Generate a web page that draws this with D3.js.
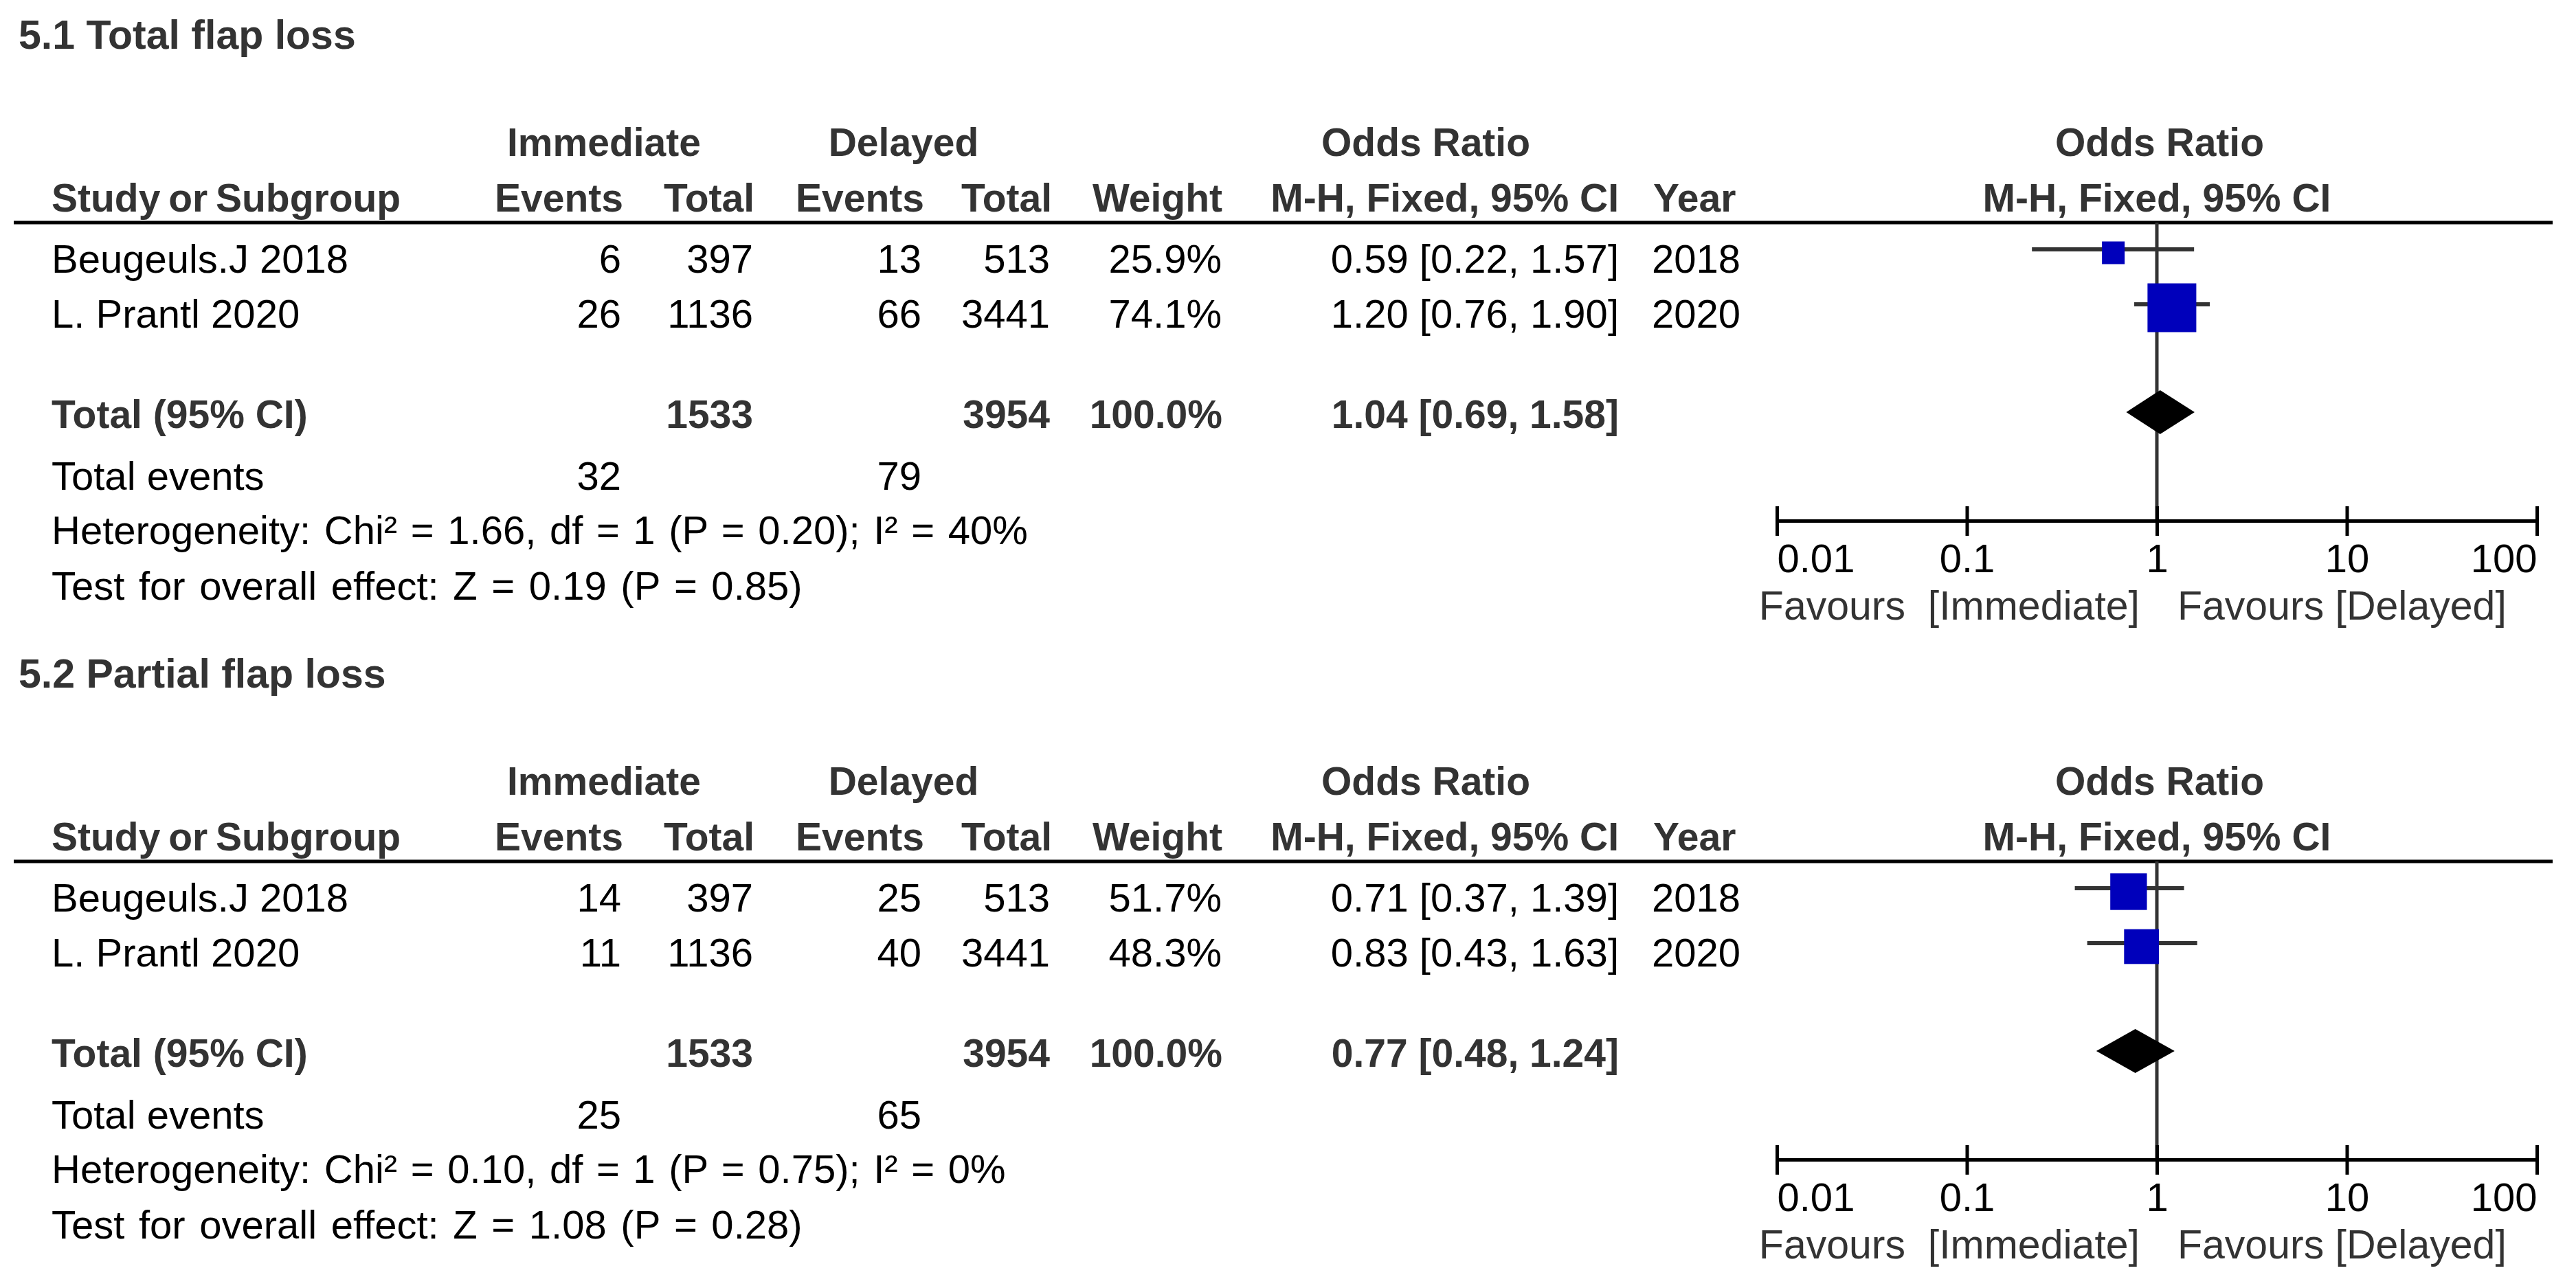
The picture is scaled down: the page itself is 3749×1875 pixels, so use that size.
<!DOCTYPE html>
<html>
<head>
<meta charset="utf-8">
<script src="https://cdn.jsdelivr.net/npm/d3@7"></script>
<style>
  body { margin: 0; background: #fff; }
  text { font-family: "Liberation Sans", Arial, sans-serif; white-space: pre; }
</style>
</head>
<body>
<div id="forest"></div>
<script>
// data
var sections = ["5.1 Total flap loss", "5.2 Partial flap loss"];
var studies = ["Beugeuls.J 2018", "L. Prantl 2020"];
var years = [2018, 2020];
var immEvents = [[6, 26], [14, 11]];
var immTotal = [397, 1136];
var delEvents = [[13, 66], [25, 40]];
var delTotal = [513, 3441];
var weights = [[25.9, 74.1], [51.7, 48.3]];
var orEst = [[0.59, 1.20], [0.71, 0.83]];
var orLow = [[0.22, 0.76], [0.37, 0.43]];
var orHigh = [[1.57, 1.90], [1.39, 1.63]];
var totalOR = [[1.04, 0.69, 1.58], [0.77, 0.48, 1.24]];
var totalN = [1533, 3954];
var totalEvents = [[32, 79], [25, 65]];
var heterogeneity = ["Heterogeneity: Chi\u00b2 = 1.66, df = 1 (P = 0.20); I\u00b2 = 40%",
                     "Heterogeneity: Chi\u00b2 = 0.10, df = 1 (P = 0.75); I\u00b2 = 0%"];
var overall = ["Test for overall effect: Z = 0.19 (P = 0.85)",
               "Test for overall effect: Z = 1.08 (P = 0.28)"];
var axisTicks = [0.01, 0.1, 1, 10, 100];
var favours = ["Favours  [Immediate]", "Favours [Delayed]"];

var width = 3749, height = 1875;
var secOffset = 930;
var fs = 58, fsB = 57;
var dark = "#333";

var x = d3.scaleLog().domain([0.01, 100]).range([2586, 3692]);
var boxSize = d3.scaleLinear().domain([0, 100]).range([12.6, 91.4]);
var fmt = d3.format(".2f");

var svg = d3.select("#forest")
    .append("svg")
    .attr("width", width)
    .attr("height", height);

svg.append("rect").attr("width", width).attr("height", height).attr("fill", "#fff");

function txt(g, xx, yy, s, opt) {
    opt = opt || {};
    return g.append("text")
        .attr("x", xx)
        .attr("y", yy)
        .attr("text-anchor", opt.anchor || "start")
        .attr("font-size", opt.size || (opt.bold ? fsB : fs))
        .attr("font-weight", opt.bold ? "bold" : "normal")
        .attr("fill", opt.fill || (opt.bold ? dark : "#000"))
        .attr("word-spacing", opt.ws || null)
        .text(s);
}

sections.forEach(function(title, s) {
    var g = svg.append("g")
        .attr("transform", "translate(0," + (s * secOffset) + ")");

    txt(g, 27, 71, title, {bold: true, size: 59});

    // column headers
    txt(g, 879, 227, "Immediate", {bold: true, anchor: "middle"});
    txt(g, 1315, 227, "Delayed", {bold: true, anchor: "middle"});
    txt(g, 2075, 227, "Odds Ratio", {bold: true, anchor: "middle"});
    txt(g, x(1) + 4, 227, "Odds Ratio", {bold: true, anchor: "middle"});

    txt(g, 75, 308, "Study or Subgroup", {bold: true, ws: -4});
    txt(g, 907, 308, "Events", {bold: true, anchor: "end"});
    txt(g, 1098, 308, "Total", {bold: true, anchor: "end"});
    txt(g, 1345, 308, "Events", {bold: true, anchor: "end"});
    txt(g, 1531, 308, "Total", {bold: true, anchor: "end"});
    txt(g, 1779, 308, "Weight", {bold: true, anchor: "end"});
    txt(g, 2356, 308, "M-H, Fixed, 95% CI", {bold: true, anchor: "end"});
    txt(g, 2406, 308, "Year", {bold: true});
    txt(g, x(1), 308, "M-H, Fixed, 95% CI", {bold: true, anchor: "middle"});

    g.append("line")
        .attr("x1", 20).attr("x2", 3715)
        .attr("y1", 324).attr("y2", 324)
        .attr("stroke", "#000").attr("stroke-width", 5);

    // reference line at OR = 1
    g.append("line")
        .attr("x1", x(1)).attr("x2", x(1))
        .attr("y1", 324).attr("y2", 758)
        .attr("stroke", dark).attr("stroke-width", 5);

    // study rows
    studies.forEach(function(name, i) {
        var yb = 397 + i * 80;
        txt(g, 75, yb, name);
        txt(g, 904, yb, immEvents[s][i], {anchor: "end"});
        txt(g, 1096, yb, immTotal[i], {anchor: "end"});
        txt(g, 1341, yb, delEvents[s][i], {anchor: "end"});
        txt(g, 1528, yb, delTotal[i], {anchor: "end"});
        txt(g, 1778, yb, weights[s][i].toFixed(1) + "%", {anchor: "end"});
        txt(g, 2356, yb, fmt(orEst[s][i]) + " [" + fmt(orLow[s][i]) + ", " + fmt(orHigh[s][i]) + "]", {anchor: "end"});
        txt(g, 2404, yb, years[i]);

        var ly = yb - 34;
        g.append("line")
            .attr("x1", x(orLow[s][i])).attr("x2", x(orHigh[s][i]))
            .attr("y1", ly).attr("y2", ly)
            .attr("stroke", dark).attr("stroke-width", 6);
        var b = boxSize(weights[s][i]);
        g.append("rect")
            .attr("x", x(orEst[s][i]) - b / 2)
            .attr("y", ly + 5 - b / 2)
            .attr("width", b).attr("height", b)
            .attr("fill", "#0000bb");
    });

    // pooled total
    txt(g, 75, 623, "Total (95% CI)", {bold: true});
    txt(g, 1096, 623, totalN[0], {bold: true, anchor: "end"});
    txt(g, 1528, 623, totalN[1], {bold: true, anchor: "end"});
    txt(g, 1779, 623, "100.0%", {bold: true, anchor: "end"});
    txt(g, 2356, 623, fmt(totalOR[s][0]) + " [" + fmt(totalOR[s][1]) + ", " + fmt(totalOR[s][2]) + "]", {bold: true, anchor: "end"});

    var dy = 600, dh = 32;
    var t = totalOR[s];
    g.append("path")
        .attr("d", "M" + x(t[1]) + "," + dy +
                   "L" + x(t[0]) + "," + (dy - dh) +
                   "L" + x(t[2]) + "," + dy +
                   "L" + x(t[0]) + "," + (dy + dh) + "Z")
        .attr("fill", "#000");

    txt(g, 75, 713, "Total events");
    txt(g, 904, 713, totalEvents[s][0], {anchor: "end"});
    txt(g, 1341, 713, totalEvents[s][1], {anchor: "end"});
    txt(g, 75, 792, heterogeneity[s], {ws: 3.5});
    txt(g, 75, 873, overall[s], {ws: 4.5});

    // log axis
    var ax = g.append("g")
        .attr("transform", "translate(0,758)")
        .call(d3.axisBottom(x).tickValues(axisTicks).tickSizeOuter(0).tickFormat(function(d) { return d; }));
    ax.select(".domain").attr("stroke", "#000").attr("stroke-width", 5);
    ax.selectAll(".tick line")
        .attr("y1", -21).attr("y2", 22)
        .attr("stroke", "#000").attr("stroke-width", 5);
    ax.selectAll(".tick text")
        .attr("y", 75).attr("dy", null)
        .attr("font-size", fs)
        .attr("font-family", "Liberation Sans, Arial, sans-serif")
        .attr("fill", "#000")
        .attr("text-anchor", function(d, k) { return k === 0 ? "start" : (k === axisTicks.length - 1 ? "end" : "middle"); });

    txt(g, x(1) - 25, 902, favours[0], {anchor: "end", fill: dark, size: 59});
    txt(g, x(1) + 30, 902, favours[1], {fill: dark, size: 59});
});
</script>
</body>
</html>
